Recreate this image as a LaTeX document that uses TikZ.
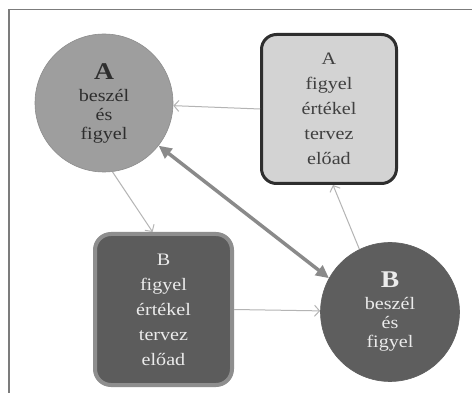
\documentclass[tikz,border=0pt]{standalone}
\usepackage{fontspec}
\setmainfont{Liberation Serif}[FakeStretch=1.15]
\usetikzlibrary{arrows.meta,calc}
\definecolor{cAfill}{HTML}{9E9E9E}
\definecolor{cAline}{HTML}{8C8C8C}
\definecolor{bAfill}{HTML}{D3D3D3}
\definecolor{bAline}{HTML}{2E2E2E}
\definecolor{bBfill}{HTML}{5C5C5C}
\definecolor{bBline}{HTML}{8E8E8E}
\definecolor{cBfill}{HTML}{5E5E5E}
\definecolor{thin}{HTML}{B4B4B4}
\definecolor{thick}{HTML}{8A8A8A}
\definecolor{frame}{HTML}{7C7C7C}
\tikzset{
  circA/.style={circle, fill=cAfill, draw=cAline, line width=0.6pt, minimum size=138pt, inner sep=0pt, align=center, text=black!82, font=\fontsize{17.5}{19}\selectfont},
  circB/.style={circle, fill=cBfill, draw=cBfill, line width=0.6pt, minimum size=139pt, inner sep=0pt, align=center, text=white!92!black, font=\fontsize{17.5}{19}\selectfont},
  boxA/.style={rectangle, rounded corners=15pt, fill=bAfill, draw=bAline, line width=3pt, minimum width=135pt, minimum height=149pt, inner sep=0pt, align=center, text=black!75, font=\fontsize{17.5}{25}\selectfont},
  boxB/.style={rectangle, rounded corners=16pt, fill=bBfill, draw=bBline, line width=4pt, minimum width=137pt, minimum height=151pt, inner sep=0pt, align=center, text=white!92!black, font=\fontsize{17.5}{25}\selectfont},
  thinarrow/.style={draw=thin, line width=1pt, -{Straight Barb[length=5pt,width=11pt]}},
  thickarrow/.style={draw=thick, line width=3.5pt, {Triangle[length=13pt,width=12pt]}-{Triangle[length=13pt,width=12pt]}},
  big/.style={font=\fontsize{24}{24}\selectfont\bfseries}
}
\begin{document}
\begin{tikzpicture}[x=1pt,y=-1pt]
\useasboundingbox (0,0) rectangle (472,393);
\fill[white] (0,0) rectangle (472,393);
\draw[frame, line width=1.5pt] (9,393) -- (9,9.5) -- (472,9.5);

\node[circA] (cA) at (104,103) {{\fontsize{24}{24}\selectfont\bfseries A}\\[3pt] beszél\\ és\\ figyel};
\node[boxA] (bA) at (329,109) {A\\ figyel\\ értékel\\ tervez\\ előad};
\node[boxB] (bB) at (163.5,309.5) {B\\ figyel\\ értékel\\ tervez\\ előad};
\node[circB] (cB) at (390,312) {{\fontsize{24}{24}\selectfont\bfseries B}\\[3pt] beszél\\ és\\ figyel};

\draw[thinarrow] (bA.west) -- (cA);
\draw[thinarrow] (cA.-83) -- (bB.98);
\draw[thinarrow] (bB.east) -- (cB);
\draw[thinarrow] (cB.116) -- (bA.-87);
\draw[thickarrow] (cA.-38) -- (cB.151);
\end{tikzpicture}
\end{document}
